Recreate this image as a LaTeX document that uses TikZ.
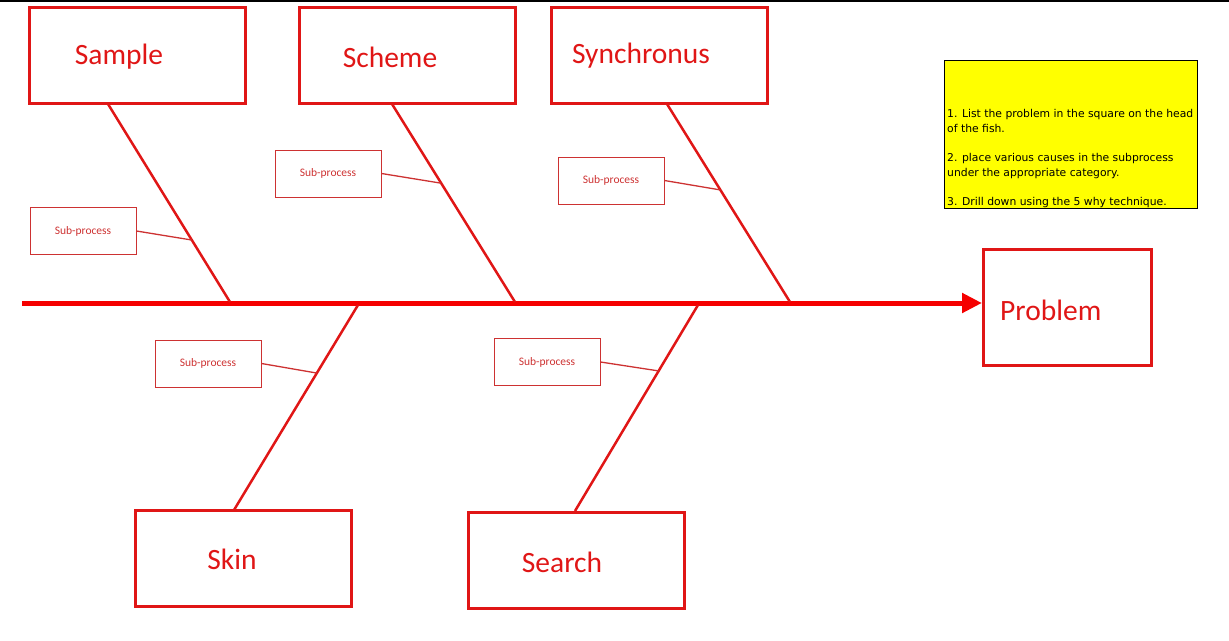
\documentclass[tikz,border=0pt]{standalone}
\usepackage{fontspec}
\setmainfont{Carlito}
\newfontfamily\notefont{DejaVu Sans}
\usetikzlibrary{arrows.meta,calc}
\definecolor{boxred}{RGB}{224,22,22}
\definecolor{spinered}{RGB}{245,0,0}
\definecolor{subred}{RGB}{205,50,50}
\definecolor{noteyellow}{RGB}{255,255,0}
\tikzset{
  catbox/.style={draw=boxred, line width=3pt, rectangle, minimum width=216pt, minimum height=96pt, inner sep=0pt},
  cattext/.style={text=boxred, font=\fontsize{29.5}{32}\selectfont, inner sep=0pt},
  subbox/.style={draw=subred, line width=1pt, rectangle, minimum width=106pt, minimum height=47pt, inner sep=0pt, text=subred, font=\fontsize{11.5}{13}\selectfont},
  bone/.style={draw=boxred, line width=2.5pt},
  twig/.style={draw=subred, line width=1.3pt},
  spine/.style={draw=spinered, line width=5pt, -{Triangle[length=20pt,width=19pt]}},
}
\begin{document}
\begin{tikzpicture}[x=1pt,y=-1pt]
\useasboundingbox (0,0) rectangle (1229,640);
% top border line
\coordinate (tl) at (0,1);
\coordinate (tr) at (1229,1);
\draw[line width=1.5pt, black] (tl) -- (tr);

% category boxes
\node[catbox] (sample) at (137,55.5) {};
\node[cattext] (sampleT) at (119,57) {Sample};
\node[catbox] (scheme) at (407.5,55.5) {};
\node[cattext] (schemeT) at (390,57) {Scheme};
\node[catbox] (sync) at (659,55) {};
\node[cattext] (syncT) at (641,56) {Synchronus};
\node[catbox] (skin) at (243,558.5) {};
\node[cattext] (skinT) at (232,559) {Skin};
\node[catbox] (search) at (576,560) {};
\node[cattext] (searchT) at (562,562) {Search};

% problem head
\node[draw=boxred, line width=3pt, minimum width=168pt, minimum height=116pt, inner sep=0pt] (problem) at (1067.5,307.5) {};
\node[cattext, anchor=west] (problemT) at (1000,310) {Problem};

% note
\node[draw=black, line width=1.5pt, fill=noteyellow, minimum width=253pt, minimum height=148pt, inner sep=0pt] (note) at (1071,134.5) {};
\node[anchor=south west, inner sep=0pt, align=left, font=\notefont\fontsize{10.8}{15}\selectfont] (noteT) at (947,208)
  {1. List the problem in the square on the head\\of the fish.\\[14pt]2. place various causes in the subprocess\\under the appropriate category.\\[14pt]3. Drill down using the 5 why technique.};

% spine
\coordinate (tail) at (22,303);
\draw[spine] (tail) -- (problem.west |- tail) ;

% bone endpoints
\coordinate (b1a) at (108,104);  \coordinate (b1b) at (230,302);
\coordinate (b2a) at (392,104);  \coordinate (b2b) at (515,302);
\coordinate (b3a) at (667,104);  \coordinate (b3b) at (790,302);
\coordinate (b4a) at (358,305);  \coordinate (b4b) at (234,510);
\coordinate (b5a) at (698,305);  \coordinate (b5b) at (575,511);
\draw[bone] (b1a) -- (b1b);
\draw[bone] (b2a) -- (b2b);
\draw[bone] (b3a) -- (b3b);
\draw[bone] (b4a) -- (b4b);
\draw[bone] (b5a) -- (b5b);

% sub-process boxes
\node[subbox] (sp1) at (83,231) {Sub-process};
\node[subbox] (sp2) at (328,173.5) {Sub-process};
\node[subbox] (sp3) at (611,180.5) {Sub-process};
\node[subbox] (sp4) at (208,363.5) {Sub-process};
\node[subbox] (sp5) at (547,362) {Sub-process};

\draw[twig] (sp1.east) -- ($(b1a)!0.687!(b1b)$);
\draw[twig] (sp2.east) -- ($(b2a)!0.40!(b2b)$);
\draw[twig] (sp3.east) -- ($(b3a)!0.434!(b3b)$);
\draw[twig] (sp4.east) -- ($(b4a)!0.332!(b4b)$);
\draw[twig] (sp5.east) -- ($(b5a)!0.32!(b5b)$);
\end{tikzpicture}
\end{document}
